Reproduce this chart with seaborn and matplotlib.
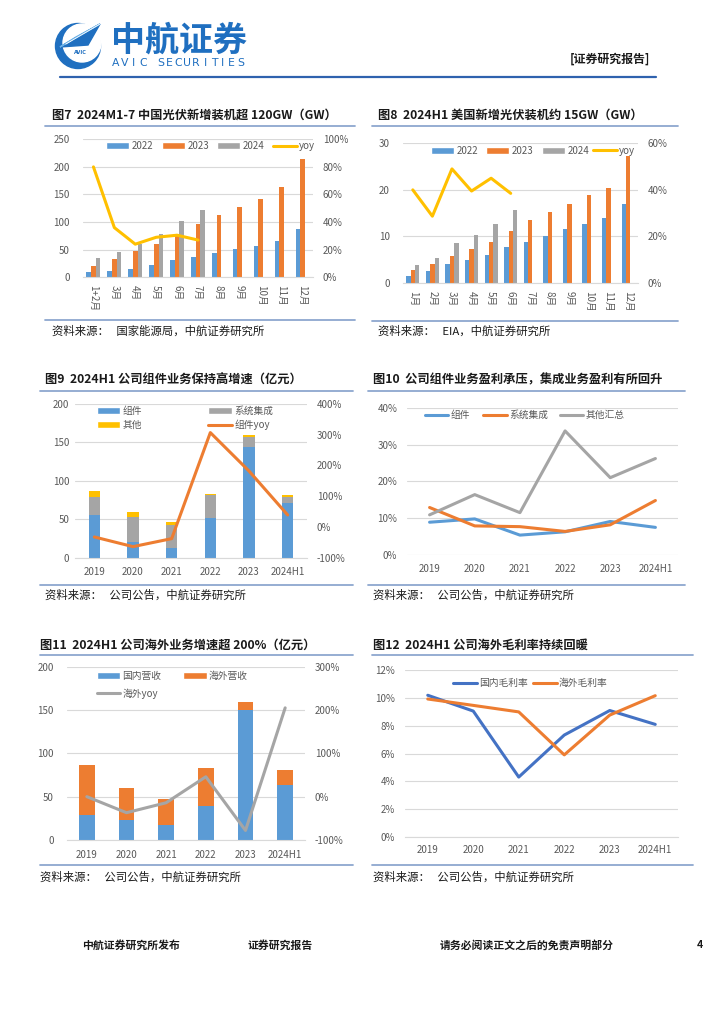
import numpy as np
import pandas as pd
import matplotlib
matplotlib.use('Agg')
import matplotlib.pyplot as plt
import seaborn as sns
from matplotlib.lines import Line2D
from matplotlib.patches import Patch, Circle, Polygon

# ---------------- data ----------------
months7 = ['1+2月', '3月', '4月', '5月', '6月', '7月', '8月', '9月', '10月', '11月', '12月']
cn_2022 = [9, 12, 15, 23, 30.5, 37, 43.5, 51, 57, 65, 87.5]
cn_2023 = [20, 33, 48, 60, 78, 96, 112, 128, 142, 163, 214]
cn_2024 = [35, 45, 60, 78, 102, 122]
cn_yoy = [0.80, 0.36, 0.24, 0.29, 0.305, 0.27]

months8 = ['1月', '2月', '3月', '4月', '5月', '6月', '7月', '8月', '9月', '10月', '11月', '12月']
us_2022 = [1.5, 2.5, 4.0, 4.9, 6.0, 7.8, 8.9, 10.2, 11.7, 12.6, 14.0, 17.0]
us_2023 = [2.7, 4.1, 5.8, 7.4, 8.7, 11.2, 13.6, 15.3, 16.9, 19.0, 20.4, 27.3]
us_2024 = [3.9, 5.3, 8.5, 10.3, 12.6, 15.6]
us_yoy = [0.40, 0.287, 0.49, 0.395, 0.45, 0.385]

years = ['2019', '2020', '2021', '2022', '2023', '2024H1']
mod_rev = [56, 20, 12, 52, 144.5, 71.6]
sys_rev = [23, 33, 30.5, 30, 13, 7.8]
oth_rev = [7.8, 6.4, 4.3, 1.3, 2.0, 1.7]
mod_yoy = [-0.325, -0.64, -0.38, 3.07, 1.82, 0.39]

gm_mod = [0.089, 0.098, 0.054, 0.063, 0.091, 0.075]
gm_sys = [0.129, 0.079, 0.077, 0.064, 0.082, 0.148]
gm_oth = [0.109, 0.164, 0.115, 0.337, 0.210, 0.262]

dom_rev = [28.5, 23.5, 17, 39.6, 149.6, 63]
ovs_rev = [58, 36.1, 30, 43.9, 10, 17.8]
ovs_yoy = [0.0, -0.37, -0.14, 0.46, -0.78, 2.05]

gm_dom = [0.102, 0.0906, 0.043, 0.0733, 0.091, 0.081]
gm_ovs = [0.0993, 0.0947, 0.090, 0.059, 0.0877, 0.1017]

# ---------------- style ----------------
sns.set_theme(style='white')
plt.rcParams['font.family'] = ['Noto Sans CJK SC', 'DejaVu Sans']

blue = '#5B9BD5'; orange = '#ED7D31'; grey = '#A5A5A5'; yellow = '#FFC000'; dblue = '#4472C4'
tick_c = '#595959'; grid_c = '#D9D9D9'; rule_c = '#8EA7CF'
FS = 7

W, H = 724, 1024
fig = plt.figure(figsize=(W / 100, H / 100), dpi=100)
fig.patch.set_facecolor('white')


def ax_px(l, t, r, b):
    return fig.add_axes([l / W, 1 - b / H, (r - l) / W, (b - t) / H])


def hline(x0, x1, y, color=rule_c, lw=1.3):
    fig.add_artist(Line2D([x0 / W, x1 / W], [1 - y / H, 1 - y / H],
                          transform=fig.transFigure, color=color, lw=lw))


def ftext(x, y, s, **kw):
    kw.setdefault('va', 'center')
    kw.setdefault('ha', 'left')
    fig.text(x / W, 1 - y / H, s, **kw)


def pct(vals):
    return ['%d%%' % round(v * 100) for v in vals]


def base(ax, ylim, yticks, labels, lpad):
    ax.set_ylim(ylim)
    ax.set_yticks(yticks)
    ax.set_yticklabels(labels)
    ax.yaxis.grid(True, color=grid_c, lw=0.8)
    ax.xaxis.grid(False)
    ax.set_axisbelow(True)
    for s in ['top', 'left', 'right']:
        ax.spines[s].set_visible(False)
    ax.spines['bottom'].set_color(grid_c)
    ax.spines['bottom'].set_linewidth(0.8)
    ax.tick_params(axis='both', length=0, labelsize=FS, labelcolor=tick_c)
    ax.tick_params(axis='y', pad=lpad)
    ax.set_xlabel('')
    ax.set_ylabel('')
    ax.set_facecolor('none')


def twin(ax, ylim, yticks, labels, rpad):
    a2 = ax.twinx()
    a2.set_ylim(ylim)
    a2.set_yticks(yticks)
    a2.set_yticklabels(labels)
    for s in a2.spines.values():
        s.set_visible(False)
    a2.tick_params(axis='y', length=0, labelsize=FS, labelcolor=tick_c, pad=rpad)
    a2.grid(False)
    return a2


def entry(handle, label, x, y):
    fig.legend([handle], [label], loc='center left', bbox_to_anchor=(x / W, 1 - y / H),
               frameon=False, fontsize=FS, handlelength=2.4, handleheight=0.7,
               handletextpad=0.25, borderpad=0, borderaxespad=0, labelcolor=tick_c)


def grouped(ax, cats, series, names, colors, width):
    rows = []
    for nm, vals in zip(names, series):
        for c, v in zip(cats, vals):
            rows.append((c, nm, v))
    df = pd.DataFrame(rows, columns=['cat', 'ser', 'val'])
    sns.barplot(data=df, x='cat', y='val', hue='ser', order=cats, hue_order=names,
                palette=colors, width=width, gap=0, saturation=1, errorbar=None,
                legend=False, ax=ax, linewidth=0, edgecolor='none')


def stacked(ax, cats, layers, colors, width):
    cum = np.cumsum(np.array(layers, dtype=float), axis=0)
    for i in range(len(layers) - 1, -1, -1):
        sns.barplot(x=cats, y=cum[i], order=cats, color=colors[i], width=width,
                    saturation=1, errorbar=None, ax=ax, linewidth=0, edgecolor='none')


def frame(title, source, tx, ty, x0, x1, ly, by, sy):
    ftext(tx, ty, title, fontsize=8.8, weight='bold', color='#1a1a1a')
    hline(x0, x1, ly)
    hline(x0, x1, by)
    ftext(tx, sy, source, fontsize=8.2, color='#1a1a1a')


# ---------------- header / footer ----------------
logo_c = '#1F6FC0'
lg = fig.add_axes([50 / W, 1 - 74 / H, 60 / W, 56 / H])
lg.set_xlim(50, 110); lg.set_ylim(74, 18); lg.axis('off')
lg.add_patch(Circle((78, 46), 22.5, color=logo_c))
lg.add_patch(Circle((82, 43), 19, color='white'))
lg.add_patch(Polygon([[60, 47], [100, 24], [88, 45]], closed=True, color=logo_c))
lg.add_patch(Polygon([[60, 47], [100, 24], [76, 37]], closed=True, color='#6BB0E6'))
lg.plot([66, 100], [44, 24], color='white', lw=0.6)
lg.text(80, 52, 'AVIC', fontsize=3.6, color=logo_c, ha='center', va='center', weight='bold',
        family='DejaVu Sans')
ftext(111, 40, '中航证券', fontsize=24.5, weight='bold', color=logo_c)
avic = 'AVIC SECURITIES'
for i, ch in enumerate(avic):
    ftext(116 + i * 8.9, 63, ch, fontsize=7.8, color=logo_c, ha='center', family='DejaVu Sans')
ftext(570, 59, '[证券研究报告]', fontsize=8.6, weight='bold', color='#1a1a1a')
hline(60, 656, 77, color='#2F62AE', lw=1.6)

ftext(82, 945, '中航证券研究所发布', fontsize=7.8, weight='bold', color='#1a1a1a')
ftext(248, 945, '证券研究报告', fontsize=7.8, weight='bold', color='#1a1a1a')
ftext(440, 945, '请务必阅读正文之后的免责声明部分', fontsize=7.8, weight='bold', color='#1a1a1a')
ftext(697, 945, '4', fontsize=7.5, weight='bold', color='#1a1a1a')

# ---------------- Fig 7 ----------------
frame('图7  2024M1-7 中国光伏新增装机超 120GW（GW）', '资料来源：   国家能源局，中航证券研究所',
      52, 115, 45, 355, 125.7, 320, 331)
ax = ax_px(83, 139.3, 313, 277.3)
grouped(ax, months7, [cn_2022, cn_2023, cn_2024], ['2022', '2023', '2024'], [blue, orange, grey], 0.67)
base(ax, (0, 250), [0, 50, 100, 150, 200, 250], ['0', '50', '100', '150', '200', '250'], 9.5)
ax.set_xticks(range(len(months7)))
ax.set_xticklabels(months7, rotation=-90, va='top', ha='center')
ax.tick_params(axis='x', pad=5.5)
a2 = twin(ax, (0, 1.0), [0, .2, .4, .6, .8, 1.0], pct([0, .2, .4, .6, .8, 1.0]), 7)
sns.lineplot(x=np.arange(len(cn_yoy)), y=cn_yoy, ax=a2, color=yellow, lw=2.2)
a2.set_ylim(0, 1.0); a2.set_xlabel(''); a2.set_ylabel('')
ax.set_xlim(-0.5, len(months7) - 0.5)
entry(Patch(facecolor=blue), '2022', 105.7, 146)
entry(Patch(facecolor=orange), '2023', 161.7, 146)
entry(Patch(facecolor=grey), '2024', 216.7, 146)
entry(Line2D([], [], color=yellow, lw=2.2), 'yoy', 273.3, 146)

# ---------------- Fig 8 ----------------
frame('图8  2024H1 美国新增光伏装机约 15GW（GW）', '资料来源：   EIA，中航证券研究所',
      377.7, 115, 372, 678, 126, 320.7, 331)
ax = ax_px(403, 143.3, 638, 283)
grouped(ax, months8, [us_2022, us_2023, us_2024], ['2022', '2023', '2024'], [blue, orange, grey], 0.67)
base(ax, (0, 30), [0, 10, 20, 30], ['0', '10', '20', '30'], 9.5)
ax.set_xticks(range(len(months8)))
ax.set_xticklabels(months8, rotation=-90, va='top', ha='center')
ax.tick_params(axis='x', pad=6)
a2 = twin(ax, (0, 0.6), [0, .2, .4, .6], pct([0, .2, .4, .6]), 7)
sns.lineplot(x=np.arange(len(us_yoy)), y=us_yoy, ax=a2, color=yellow, lw=2.2)
a2.set_ylim(0, 0.6); a2.set_xlabel(''); a2.set_ylabel('')
ax.set_xlim(-0.5, len(months8) - 0.5)
entry(Patch(facecolor=blue), '2022', 431, 150.7)
entry(Patch(facecolor=orange), '2023', 485.7, 150.7)
entry(Patch(facecolor=grey), '2024', 541.7, 150.7)
entry(Line2D([], [], color=yellow, lw=2.2), 'yoy', 593.3, 150.7)

# ---------------- Fig 9 ----------------
frame('图9  2024H1 公司组件业务保持高增速（亿元）', '资料来源：   公司公告，中航证券研究所',
      45, 380, 40, 353, 390.7, 585, 595)
ax = ax_px(75, 404, 307, 557.7)
stacked(ax, years, [mod_rev, sys_rev, oth_rev], [blue, grey, yellow], 0.3)
base(ax, (0, 200), [0, 50, 100, 150, 200], ['0', '50', '100', '150', '200'], 4)
ax.tick_params(axis='x', pad=7)
a2 = twin(ax, (-1, 4), [-1, 0, 1, 2, 3, 4], pct([-1, 0, 1, 2, 3, 4]), 7)
sns.lineplot(x=np.arange(len(mod_yoy)), y=mod_yoy, ax=a2, color=orange, lw=2.2)
a2.set_ylim(-1, 4); a2.set_xlabel(''); a2.set_ylabel('')
ax.set_xlim(-0.5, len(years) - 0.5)
entry(Patch(facecolor=blue), '组件', 96.7, 410.7)
entry(Patch(facecolor=grey), '系统集成', 208.3, 410.7)
entry(Patch(facecolor=yellow), '其他', 96.7, 425)
entry(Line2D([], [], color=orange, lw=2.2), '组件yoy', 208.3, 425)

# ---------------- Fig 10 ----------------
frame('图10  公司组件业务盈利承压，集成业务盈利有所回升', '资料来源：   公司公告，中航证券研究所',
      373, 380, 368, 685, 390.7, 585, 595)
ax = ax_px(407, 407.7, 678, 555)
xs = np.arange(len(years))
sns.lineplot(x=xs, y=gm_mod, ax=ax, color=blue, lw=2.2)
sns.lineplot(x=xs, y=gm_sys, ax=ax, color=orange, lw=2.2)
sns.lineplot(x=xs, y=gm_oth, ax=ax, color=grey, lw=2.2)
base(ax, (0, 0.4), [0, .1, .2, .3, .4], pct([0, .1, .2, .3, .4]), 7)
ax.spines['bottom'].set_visible(False)
ax.set_xticks(xs); ax.set_xticklabels(years)
ax.tick_params(axis='x', pad=6.5)
ax.set_xlim(-0.5, len(years) - 0.5)
entry(Line2D([], [], color=blue, lw=2.2), '组件', 425, 415)
entry(Line2D([], [], color=orange, lw=2.2), '系统集成', 483.3, 415)
entry(Line2D([], [], color=grey, lw=2.2), '其他汇总', 560, 415)

# ---------------- Fig 11 ----------------
frame('图11  2024H1 公司海外业务增速超 200%（亿元）', '资料来源：   公司公告，中航证券研究所',
      40, 645, 40, 353, 655, 865, 876.7)
ax = ax_px(67, 666.7, 305, 840)
stacked(ax, years, [dom_rev, ovs_rev], [blue, orange], 0.4)
base(ax, (0, 200), [0, 50, 100, 150, 200], ['0', '50', '100', '150', '200'], 9.5)
ax.tick_params(axis='x', pad=7.5)
a2 = twin(ax, (-1, 3), [-1, 0, 1, 2, 3], pct([-1, 0, 1, 2, 3]), 7)
sns.lineplot(x=np.arange(len(ovs_yoy)), y=ovs_yoy, ax=a2, color=grey, lw=2.2)
a2.set_ylim(-1, 3); a2.set_xlabel(''); a2.set_ylabel('')
ax.set_xlim(-0.5, len(years) - 0.5)
entry(Patch(facecolor=blue), '国内营收', 96.7, 675.7)
entry(Patch(facecolor=orange), '海外营收', 183.3, 675.7)
entry(Line2D([], [], color=grey, lw=2.2), '海外yoy', 96.7, 693.3)

# ---------------- Fig 12 ----------------
frame('图12  2024H1 公司海外毛利率持续回暖', '资料来源：   公司公告，中航证券研究所',
      373, 645, 372, 693, 655, 865, 876.7)
ax = ax_px(405, 670.3, 678, 836.7)
sns.lineplot(x=xs, y=gm_dom, ax=ax, color=dblue, lw=2.2)
sns.lineplot(x=xs, y=gm_ovs, ax=ax, color=orange, lw=2.2)
base(ax, (0, 0.12), [0, .02, .04, .06, .08, .10, .12], pct([0, .02, .04, .06, .08, .10, .12]), 7)
ax.set_xticks(xs); ax.set_xticklabels(years)
ax.set_xticks(np.arange(-0.5, len(years)), minor=True)
ax.tick_params(axis='x', which='minor', length=4, color=grid_c, width=0.8, direction='out')
ax.tick_params(axis='x', which='major', pad=6)
ax.set_xlim(-0.5, len(years) - 0.5)
entry(Line2D([], [], color=dblue, lw=2.2), '国内毛利率', 453.3, 683)
entry(Line2D([], [], color=orange, lw=2.2), '海外毛利率', 533.3, 683)

fig.savefig('out.png', dpi=100, facecolor='white')
